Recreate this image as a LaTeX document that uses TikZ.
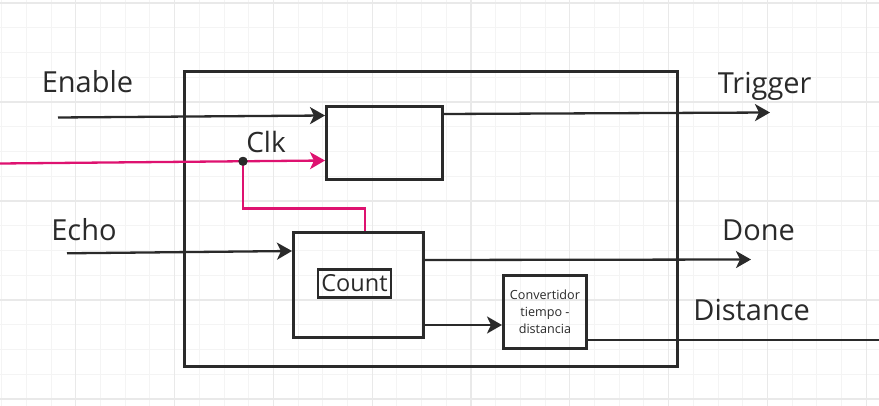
\documentclass[tikz,border=0pt]{standalone}
\usepackage{fontspec}
\setmainfont{Open Sans}
\usetikzlibrary{arrows.meta,calc}
\definecolor{ink}{HTML}{2A2A2A}
\definecolor{clkpink}{RGB}{222,18,112}
\definecolor{gridminor}{HTML}{F4F4F4}
\definecolor{gridmajor}{HTML}{E9E9E9}
\tikzset{
  box/.style={draw=ink, line width=2.9pt, anchor=north west, inner sep=0pt, fill=none},
  arr/.style={draw=ink, line width=2.3pt, -{Stealth[length=15pt,width=17pt,inset=4pt]}},
  plain/.style={draw=ink, line width=2.3pt},
  pinkarr/.style={draw=clkpink, line width=2.3pt, -{Stealth[length=15pt,width=17pt,inset=4pt]}},
  pinkline/.style={draw=clkpink, line width=2.3pt},
  lbl/.style={text=ink, font=\fontsize{29}{33}\selectfont, anchor=base, inner sep=0pt},
}
\begin{document}
\begin{tikzpicture}[x=1pt,y=-1pt]
\useasboundingbox (0,0) rectangle (879,406);
\fill[white] (0,0) rectangle (879,406);
% grid
\foreach \i in {0,...,36} {
  \pgfmathsetmacro\gx{1.7+24.7*\i}
  \draw[gridminor, line width=1pt] (\gx,0) -- (\gx,406);
}
\foreach \i in {0,...,17} {
  \pgfmathsetmacro\gy{3+24.75*\i}
  \draw[gridminor, line width=1pt] (0,\gy) -- (879,\gy);
}
\foreach \i in {0,...,9} {
  \pgfmathsetmacro\gx{-23.1+98.8*\i}
  \draw[gridmajor, line width=1.2pt] (\gx,0) -- (\gx,406);
}
\foreach \i in {0,...,4} {
  \pgfmathsetmacro\gy{3+99*\i}
  \draw[gridmajor, line width=1.2pt] (0,\gy) -- (879,\gy);
}
% boxes
\node[box, minimum width=493pt, minimum height=295pt] (outer) at (183,70) {};
\node[box, minimum width=116pt, minimum height=73pt] (top) at (325,105) {};
\node[box, minimum width=130pt, minimum height=105pt] (count) at (292,231) {};
\node[box, minimum width=83pt, minimum height=73pt, align=center, text=ink,
      font=\fontsize{12.6}{17}\selectfont] (conv) at (502,274) {Convertidor\\tiempo -\\distancia};
\node[draw=ink, line width=2.4pt, minimum width=73pt, minimum height=28pt, inner sep=0pt,
      text=ink, font=\fontsize{23.5}{26}\selectfont] (cnt) at (354.5,283.5) {Count};
% labels
\node[lbl] (lenable) at (87.5,93) {Enable};
\node[lbl, font=\fontsize{28}{32}\selectfont] (lclk) at (266,152.3) {Clk};
\node[lbl] (ltrigger) at (764.7,93.3) {Trigger};
\node[lbl] (lecho) at (84,240.7) {Echo};
\node[lbl] (ldone) at (758.5,240.7) {Done};
\node[lbl] (ldist) at (751.7,320.7) {Distance};
% free ends
\coordinate (enA) at (58,117.5);
\coordinate (clkA) at (0,163.5);
\coordinate (trigE) at (770,112.5);
\coordinate (echoA) at (67,253.3);
\coordinate (doneE) at (751,259.5);
\coordinate (distE) at (879,340);
\coordinate (clkmid) at (365,208.5);
% connectors
\draw[arr] (enA) -- ([yshift=-10.5pt]top.north west);
\draw[arr] ([yshift=-9pt]top.north east) -- (trigE);
\draw[arr] (echoA) -- ([yshift=-20pt]count.north west);
\draw[arr] ([yshift=-29pt]count.north east) -- (doneE);
\draw[arr] ([yshift=-94pt]count.north east) -- ([yshift=-51pt]conv.north west);
\draw[plain] ([yshift=-66pt]conv.north east) -- (distE);
% clock
\draw[pinkarr] (clkA) -- ([yshift=-55.5pt]top.north west);
\node[circle, fill=ink, inner sep=0pt, minimum size=9pt] (dot) at (243,161.3) {};
\draw[pinkline] (dot.center) |- (clkmid) -- ([xshift=73pt]count.north west);
\node[circle, fill=ink, inner sep=0pt, minimum size=9pt] at (dot) {};
\end{tikzpicture}
\end{document}
